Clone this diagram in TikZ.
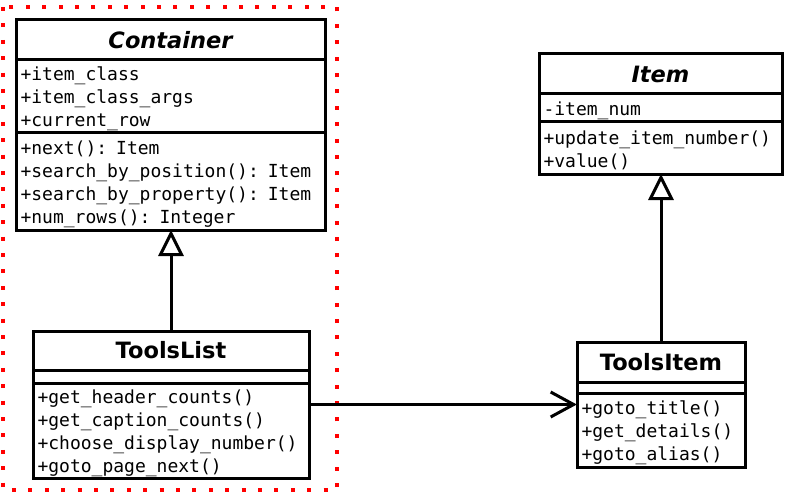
\documentclass[tikz,border=0pt]{standalone}
\usepackage{fontspec}
\setmainfont{DejaVu Sans}
\setmonofont{DejaVu Sans Mono}
\usetikzlibrary{positioning,arrows.meta,fit}
\tikzset{
  umlpart/.style={draw, rectangle, line width=3pt, outer sep=0pt, inner xsep=4.5pt, inner ysep=1pt},
  umltitle/.style={umlpart, align=center, font=\fontsize{22.5}{26}\selectfont\bfseries},
  umlempty/.style={umlpart},
  umlbody/.style={umlpart, align=left, execute at begin node={\rule{0pt}{19pt}}, font=\fontsize{18}{23}\selectfont\ttfamily},
  gen/.style={line width=3pt, -{Triangle[open, length=26pt, width=25pt, line width=3pt]}},
  assoc/.style={line width=3pt, -{Straight Barb[length=23pt, width=25pt, line width=3pt]}}
}
\begin{document}
\begin{tikzpicture}[x=1pt,y=-1pt]
\useasboundingbox[fill=white] (0,0) rectangle (800,500);
\draw[red, line width=4pt, dash pattern=on 4pt off 12.4pt] (3,7) rectangle (337,490);
\def\CW{300pt};\def\TLW{267pt};\def\IW{234pt};\def\TIW{159pt};
% Container
\node[umltitle, text width=\CW, minimum height=40pt, anchor=north west] (cont-title) at (16,20) {\itshape Container};
\node[umlbody, text width=\CW, minimum height=73pt, below=0pt of cont-title] (cont-attr) {+item\_class\\+item\_class\_args\\+current\_row};
\node[umlbody, text width=\CW, minimum height=97pt, below=0pt of cont-attr] (cont-meth) {+next(): Item\\+search\_by\_position(): Item\\+search\_by\_property(): Item\\+num\_rows(): Integer};
% ToolsList
\node[umltitle, text width=\TLW, minimum height=39pt, anchor=north west] (tl-title) at (33,331) {ToolsList};
\node[umlempty, text width=\TLW, minimum height=13pt, below=0pt of tl-title] (tl-attr) {};
\node[umlbody, text width=\TLW, minimum height=95pt, below=0pt of tl-attr] (tl-meth) {+get\_header\_counts()\\+get\_caption\_counts()\\+choose\_display\_number()\\+goto\_page\_next()};
% Item
\node[umltitle, text width=\IW, minimum height=40pt, anchor=north west] (item-title) at (539,54) {\itshape Item};
\node[umlbody, text width=\IW, minimum height=28pt, below=0pt of item-title] (item-attr) {-item\_num};
\node[umlbody, text width=\IW, minimum height=52pt, below=0pt of item-attr] (item-meth) {+update\_item\_number()\\+value()};
% ToolsItem
\node[umltitle, text width=\TIW, minimum height=40pt, anchor=north west] (ti-title) at (577,342) {ToolsItem};
\node[umlempty, text width=\TIW, minimum height=11pt, below=0pt of ti-title] (ti-attr) {};
\node[umlbody, text width=\TIW, minimum height=74pt, below=0pt of ti-attr] (ti-meth) {+goto\_title()\\+get\_details()\\+goto\_alias()};
\node[fit=(ti-title)(ti-meth), inner sep=0pt] (ti) {};
\draw[gen] (tl-title.north) -- (tl-title.north |- cont-meth.south);
\draw[gen] (ti-title.north) -- (ti-title.north |- item-meth.south);
\draw[assoc] (tl-meth.east |- ti.west) -- (ti.west);
\end{tikzpicture}
\end{document}
